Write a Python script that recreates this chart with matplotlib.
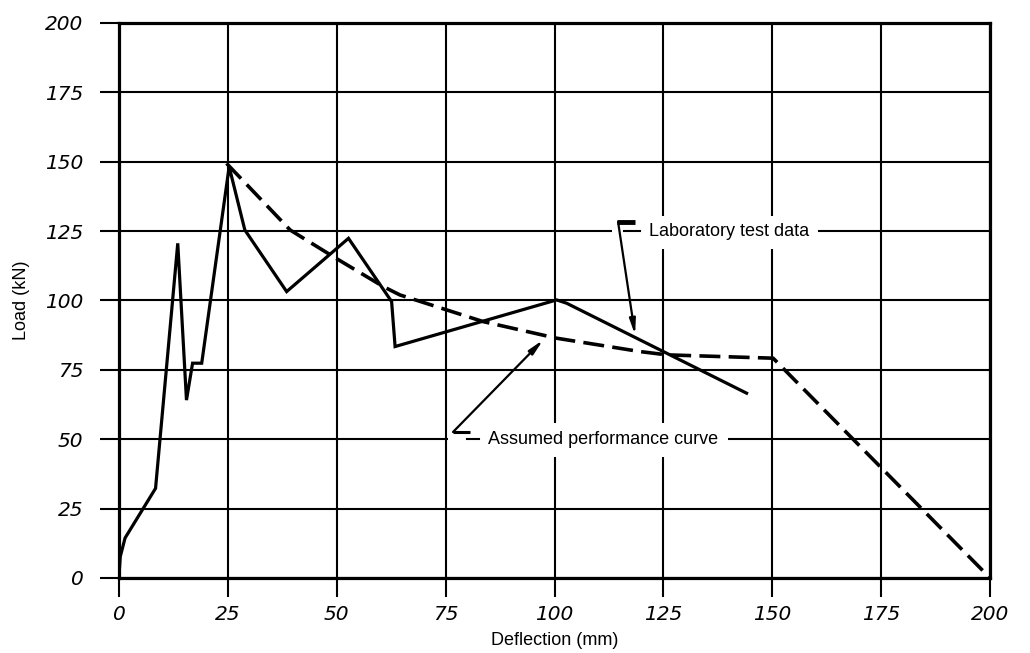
import numpy as np
import matplotlib as mpl
mpl.use('Agg')
import matplotlib.pyplot as plt
from matplotlib.patches import Rectangle

# laboratory test data (solid)
lab_x = [0, 0.3, 1.4, 8.4, 13.5, 15.5, 16.9, 19.0, 25.3, 28.9, 38.5, 52.7,
         62.6, 63.4, 100.5, 102.8, 144.1]
lab_y = [0.5, 7.7, 14.4, 32.3, 120.6, 64.1, 77.4, 77.4, 148.2, 125.4, 103.2,
         122.4, 99.6, 83.4, 100.2, 99.0, 66.6]

# assumed performance curve (dashed)
ass_x = [24.7, 39.3, 49.2, 60.7, 64.5, 83.6, 100.5, 119.6, 125.8, 150.2, 200]
ass_y = [149.4, 125.4, 115.8, 105.0, 102.0, 92.4, 86.4, 81.6, 80.4, 79.2, 0]

ticks = [0, 25, 50, 75, 100, 125, 150, 175, 200]
tick_labels = ['0', '25', '50', '75', '100', '125', '150', '175', '200']


def main():
    fig = plt.figure(figsize=(10.30, 6.53), dpi=100)
    ax = fig.add_axes([0.1155, 0.1149, 0.8457, 0.8499])

    ax.set_xlim(0, 200)
    ax.set_ylim(0, 200)
    ax.set_xticks(ticks)
    ax.set_yticks(ticks)
    tfont = dict(family='DejaVu Sans', style='oblique', size=14.5)
    ax.set_xticklabels(tick_labels, **tfont)
    ax.set_yticklabels(tick_labels, **tfont)
    ax.tick_params(axis='both', direction='out', length=13.7, width=1.5,
                   color='black')
    ax.tick_params(axis='y', pad=12)
    ax.tick_params(axis='x', pad=6)

    ax.grid(True, color='black', linewidth=1.5, zorder=1)
    ax.set_axisbelow(True)
    for loc in ['left', 'right', 'top', 'bottom']:
        ax.spines[loc].set_linewidth(2.3)

    # white patches behind labels break the grid
    ax.add_patch(Rectangle((113.2, 118.6), 47.3, 11.9, facecolor='white',
                           edgecolor='none', zorder=2))
    ax.add_patch(Rectangle((75.5, 43.6), 64.3, 12.3, facecolor='white',
                           edgecolor='none', zorder=2))

    ax.plot(lab_x, lab_y, color='black', linewidth=2.3, zorder=4,
            solid_joinstyle='miter')
    ax.plot(ass_x, ass_y, color='black', linewidth=2.6, zorder=4,
            dashes=(5.8, 2.3), clip_on=False)

    lfont = dict(family='Liberation Sans', size=13)
    ax.text(121.7, 125, 'Laboratory test data', ha='left', va='center',
            zorder=5, **lfont)
    ax.text(84.7, 50, 'Assumed performance curve', ha='left', va='center',
            zorder=5, **lfont)

    # leaders
    ax.annotate('', xy=(118.5, 87.6), xytext=(114.6, 128.3), zorder=5,
                arrowprops=dict(arrowstyle='-|>,head_length=0.9,head_width=0.18',
                                color='black', lw=1.6, shrinkA=0, shrinkB=0))
    ax.plot([114.3, 118.5], [128.3, 128.3], color='black', linewidth=3.5,
            zorder=5, solid_capstyle='butt')
    ax.plot([115.9, 119.6], [125, 125], color='black', linewidth=1.5, zorder=5)

    ax.annotate('', xy=(97.4, 85.8), xytext=(76.7, 52.6), zorder=5,
                arrowprops=dict(arrowstyle='-|>,head_length=0.9,head_width=0.18',
                                color='black', lw=1.6, shrinkA=0, shrinkB=0))
    ax.plot([76.7, 80.6], [52.6, 52.6], color='black', linewidth=2.2,
            zorder=5, solid_capstyle='butt')
    ax.plot([79.9, 82.6], [50, 50], color='black', linewidth=1.5, zorder=5)

    ax.set_xlabel('Deflection (mm)', **lfont)
    ax.set_ylabel('Load (kN)', **lfont)
    ax.xaxis.set_label_coords(0.5, -0.098)
    ax.yaxis.set_label_coords(-0.102, 0.5)

    plt.savefig('out.png', dpi=100)
    plt.close()


if __name__ == '__main__':
    main()
